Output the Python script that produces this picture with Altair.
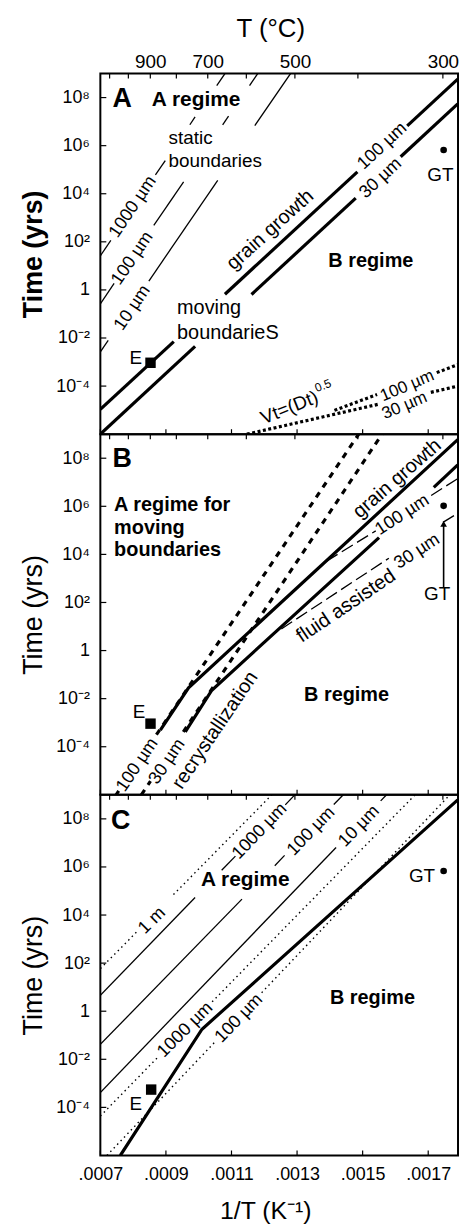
import altair as alt
import pandas as pd

FONT = "Liberation Sans"
W, H = 360, 363
X_DOMAIN = [0.0007, 0.0017909]
Y_DOMAIN = [1e-6, 1e9]

# axis ticks
T_TICKS_C = [1100, 1000, 900, 800, 700, 600, 500, 400, 300]
T_LABELS_C = [900, 700, 500, 300]
INVT_TICKS = [0.0007, 0.0009, 0.0011, 0.0013, 0.0015, 0.0017]
Y_TICKS = [1e-4, 1e-2, 1.0, 1e2, 1e4, 1e6, 1e8]

# ---------------- Panel A : segments of (1/T, log10 t) ----------------
A_STATIC = [  # static boundaries 1000, 100, 10 um (thin)
    [(0.0007, 1.42), (0.000732, 2.06)], [(0.000868, 4.78), (0.000898, 5.38)],
    [(0.000973, 6.87), (0.000989, 7.20)], [(0.001055, 8.50), (0.00108, 9.0)],
    [(0.0007, -0.58), (0.000742, 0.27)], [(0.000863, 2.68), (0.000954, 4.49)],
    [(0.001073, 6.86), (0.001091, 7.23)], [(0.001155, 8.50), (0.00118, 9.0)],
    [(0.0007, -2.58), (0.000724, -2.10)], [(0.000848, 0.37), (0.001058, 4.56)],
    [(0.001171, 6.83), (0.00128, 9.0)],
]
A_MOVING = [  # moving boundaries / grain growth 100, 30 um (thick)
    [(0.0007, -4.97), (0.000924, -2.15)], [(0.00108, -0.18), (0.001484, 4.91)],
    [(0.001636, 6.82), (0.00179, 8.77)],
    [(0.0007, -6.0), (0.000989, -2.35)], [(0.001161, -0.19), (0.001479, 3.82)],
    [(0.001616, 5.54), (0.00179, 7.74)],
]
A_DIFF = [  # Vt=(Dt)^0.5, 100 and 30 um (thick dotted)
    [(0.001414, -5.01), (0.001544, -4.35)], [(0.001726, -3.44), (0.00179, -3.11)],
    [(0.001147, -6.0), (0.00155, -4.75)], [(0.001708, -4.26), (0.00179, -4.0)],
]
A_E = [(0.000853, -3.03)]
A_GT = [(0.001747, 5.82)]
A_TEXT = [  # text, 1/T, log t, angle, size, weight, align
    ("A", 0.000767, 7.93, 0, 27, "bold", "center"),
    ("A regime", 0.000992, 7.90, 0, 21, "bold", "center"),
    ("static", 0.000908, 6.31, 0, 19, "normal", "left"),
    ("boundaries", 0.000908, 5.36, 0, 19, "normal", "left"),
    ("1000 µm", 0.000799, 3.45, 304, 18, "normal", "center"),
    ("100 µm", 0.000798, 1.31, 304, 18, "normal", "center"),
    ("10 µm", 0.000798, -0.75, 304, 18, "normal", "center"),
    ("grain growth", 0.001218, 2.50, 318, 20, "normal", "center"),
    ("100 µm", 0.00156, 5.98, 317, 18, "normal", "center"),
    ("30 µm", 0.001555, 4.64, 317, 18, "normal", "center"),
    ("B regime", 0.001525, 1.21, 0, 20, "bold", "center"),
    ("moving", 0.000934, -0.75, 0, 20, "normal", "left"),
    ("boundarieS", 0.000934, -1.79, 0, 20, "normal", "left"),
    ("E", 0.000808, -2.82, 0, 19, "normal", "center"),
    ("GT", 0.001737, 4.76, 0, 19, "normal", "center"),
    ("Vt=(Dt)", 0.001362, -4.43, 338, 19, "normal", "right"),
    ("100 µm", 0.001636, -3.99, 337, 17, "normal", "center"),
    ("30 µm", 0.001628, -4.81, 337, 17, "normal", "center"),
]
A_SUP = [("0.5", 0.001362, -4.43, 338, 12, 1, -8)]

# ---------------- Panel B ----------------
B_RECRYST = [  # recrystallization 100, 30 um (thick dashed), broken by labels
    [(0.000748, -6.0), (0.000756, -5.84)], [(0.000871, -3.50), (0.001488, 9.0)],
    [(0.000825, -6.0), (0.000853, -5.43)], [(0.000953, -3.38), (0.001559, 9.0)],
]
B_SOLID = [  # combined grain growth 100, 30 um (thick)
    [(0.000883, -3.31), (0.000969, -1.55), (0.00179, 8.77)],
    [(0.000959, -3.38), (0.00104, -1.65), (0.00155, 4.70)],
    [(0.001717, 6.79), (0.00179, 7.72)],
]
B_FLUID = [  # fluid assisted 100, 30 um (thin long dash)
    [(0.00139, 3.72), (0.00154, 4.98)], [(0.001709, 6.45), (0.00179, 7.15)],
    [(0.001252, 0.90), (0.00158, 3.84)], [(0.001745, 5.33), (0.00179, 5.71)],
]
B_ARROW = [[(0.001747, 2.61), (0.001747, 5.30)]]
B_ARROWHEAD = [(0.001747, 5.27)]
B_E = [(0.000853, -3.04)]
B_GT = [(0.001747, 6.02)]
B_TEXT = [
    ("B", 0.000767, 7.98, 0, 27, "bold", "center"),
    ("A regime for", 0.000742, 6.05, 0, 20, "bold", "left"),
    ("moving", 0.000742, 5.09, 0, 20, "bold", "left"),
    ("boundaries", 0.000742, 4.19, 0, 20, "bold", "left"),
    ("grain growth", 0.001605, 7.15, 319, 20, "normal", "center"),
    ("100 µm", 0.001621, 5.64, 327, 18, "normal", "center"),
    ("30 µm", 0.001666, 4.12, 327, 18, "normal", "center"),
    ("fluid assisted", 0.001449, 1.85, 326, 20, "normal", "center"),
    ("recrystallization", 0.00105, -3.31, 304, 20, "normal", "center"),
    ("100 µm", 0.000813, -4.76, 304, 18, "normal", "center"),
    ("30 µm", 0.000904, -4.62, 304, 18, "normal", "center"),
    ("B regime", 0.001451, -1.87, 0, 20, "bold", "center"),
    ("E", 0.000818, -2.56, 0, 19, "normal", "center"),
    ("GT", 0.001727, 2.34, 0, 19, "normal", "center"),
]

# ---------------- Panel C ----------------
C_SOLID = [  # 1000, 100, 10 um (thin solid)
    [(0.0007, 0.665), (0.000989, 4.73)], [(0.00107, 5.86), (0.001112, 6.45)],
    [(0.001264, 8.58), (0.001293, 9.0)],
    [(0.0007, -1.38), (0.001132, 4.66)], [(0.001232, 6.05), (0.001262, 6.48)],
    [(0.001412, 8.60), (0.001441, 9.0)],
    [(0.0007, -3.38), (0.001419, 6.81)], [(0.001555, 8.75), (0.001573, 9.0)],
]
C_DOTTED = [  # 1 m, 1000 um, 100 um (thin dotted)
    [(0.0007, 1.77), (0.000814, 3.34)], [(0.000923, 4.85), (0.001223, 9.0)],
    [(0.0007, -4.36), (0.000877, -1.89)], [(0.001041, 0.39), (0.00166, 9.0)],
    [(0.00072, -6.0), (0.001053, -1.23)], [(0.001192, 0.77), (0.001766, 9.0)],
]
C_THICK = [[(0.000761, -6.0), (0.00101, -0.75), (0.00179, 8.79)]]
C_E = [(0.000855, -3.26)]
C_GT = [(0.001747, 5.83)]
C_TEXT = [
    ("C", 0.000762, 7.90, 0, 27, "bold", "center"),
    ("A regime", 0.001142, 5.45, 0, 21, "bold", "center"),
    ("1 m", 0.000858, 3.76, 315, 18, "normal", "center"),
    ("1000 µm", 0.001186, 7.48, 314, 18, "normal", "center"),
    ("100 µm", 0.001343, 7.48, 314, 18, "normal", "center"),
    ("10 µm", 0.001489, 7.69, 314, 18, "normal", "center"),
    ("1000 µm", 0.000959, -0.78, 315, 18, "normal", "center"),
    ("100 µm", 0.001123, -0.30, 314, 18, "normal", "center"),
    ("GT", 0.001681, 5.62, 0, 19, "normal", "center"),
    ("E", 0.000808, -3.88, 0, 19, "normal", "center"),
    ("B regime", 0.00153, 0.56, 0, 20, "bold", "center"),
]

STYLE = {
    "thin": {"strokeWidth": 1.3},
    "thick": {"strokeWidth": 3.2},
    "dash": {"strokeWidth": 3.2, "strokeDash": [6, 6]},
    "longdash": {"strokeWidth": 1.3, "strokeDash": [13, 5]},
    "dot": {"strokeWidth": 1.4, "strokeDash": [1.5, 3.5]},
    "bigdot": {"strokeWidth": 3.2, "strokeDash": [3, 2.5]},
    "arrow": {"strokeWidth": 1.6},
}

YLABEL_EXPR = ("datum.value > 5e7 ? '10⁸' : datum.value > 5e5 ? '10⁶' : datum.value > 5e3 ? '10⁴' : "
               "datum.value > 50 ? '10²' : datum.value > 0.5 ? '1' : datum.value > 5e-3 ? '10⁻²' : '10⁻⁴'")


def yaxis(weight):
    return alt.Axis(values=Y_TICKS, labelExpr=YLABEL_EXPR, ticks=False, domain=False, grid=False,
                    labelFont=FONT, labelFontSize=18, labelPadding=11, labelFlush=False,
                    labelOverlap=False, labelColor="black",
                    title="Time (yrs)", titleFont=FONT, titleFontSize=27, titleFontWeight=weight,
                    titleColor="black", titleX=-67, titleY=H / 2, titleAngle=270,
                    titleAlign="center", titleBaseline="middle")


TOP_AXIS = alt.Axis(orient="top", values=[1 / (T + 273.15) for T in T_LABELS_C],
                    labelExpr="format(round(1/datum.value - 273.15), 'd')",
                    ticks=False, domain=False, grid=False, labelFont=FONT, labelFontSize=19,
                    labelPadding=2, labelFlush=False, labelColor="black",
                    title="T (°C)", titleFont=FONT, titleFontSize=26, titleFontWeight="normal",
                    titleColor="black", titleX=171, titleY=-45, titleAlign="center",
                    titleBaseline="middle")

BOTTOM_AXIS = alt.Axis(orient="bottom", values=INVT_TICKS,
                       labelExpr="replace(format(datum.value, '.4f'), '0.', '.')",
                       ticks=False, domain=False, grid=False, labelFont=FONT, labelFontSize=18,
                       labelPadding=10, labelFlush=False, labelColor="black",
                       title="1/T (K⁻¹)", titleFont=FONT, titleFontSize=25,
                       titleFontWeight="normal", titleColor="black", titleX=166, titleY=55,
                       titleAlign="center", titleBaseline="middle")


def seg_df(segs, tag):
    rows = []
    for i, seg in enumerate(segs):
        for j, (x, lt) in enumerate(seg):
            rows.append({"x": x, "t": 10.0 ** lt, "seg": f"{tag}{i}", "ord": j})
    return pd.DataFrame(rows)


def pts_df(pts):
    return pd.DataFrame({"x": [p[0] for p in pts], "t": [10.0 ** p[1] for p in pts]})


def make_panel(lines, squares, circles, triangles, texts, sups, xaxis, yweight):
    xenc = alt.X("x:Q", scale=alt.Scale(domain=X_DOMAIN, nice=False, zero=False), axis=xaxis)
    yenc = alt.Y("t:Q", scale=alt.Scale(type="log", domain=Y_DOMAIN, nice=False),
                 axis=yaxis(yweight))
    layers = []
    # inner ticks: T ticks along top edge, 1/T ticks along bottom edge, log ticks at left
    tdf = pd.DataFrame({"x": [1 / (T + 273.15) for T in T_TICKS_C]})
    layers.append(alt.Chart(tdf).mark_rule(color="black", strokeWidth=1.2).encode(
        x=xenc, y=alt.value(0), y2=alt.value(5)))
    bdf = pd.DataFrame({"x": INVT_TICKS})
    layers.append(alt.Chart(bdf).mark_rule(color="black", strokeWidth=1.2).encode(
        x=xenc, y=alt.value(H - 5), y2=alt.value(H)))
    ydf = pd.DataFrame({"t": Y_TICKS})
    layers.append(alt.Chart(ydf).mark_rule(color="black", strokeWidth=1.2).encode(
        y=yenc, x=alt.value(0), x2=alt.value(6)))
    for k, (style, segs) in enumerate(lines):
        df = seg_df(segs, f"{style}{k}_")
        layers.append(alt.Chart(df).mark_line(color="black", clip=True, **STYLE[style]).encode(
            x=xenc, y=yenc, detail="seg:N", order="ord:Q"))
    if squares:
        layers.append(alt.Chart(pts_df(squares)).mark_point(
            shape="square", filled=True, color="black", opacity=1, size=110).encode(x=xenc, y=yenc))
    if circles:
        layers.append(alt.Chart(pts_df(circles)).mark_point(
            shape="circle", filled=True, color="black", opacity=1, size=45).encode(x=xenc, y=yenc))
    if triangles:
        layers.append(alt.Chart(pts_df(triangles)).mark_point(
            shape="triangle-up", filled=True, color="black", opacity=1, size=45).encode(x=xenc, y=yenc))
    tdf_all = pd.DataFrame(texts, columns=["text", "x", "lt", "angle", "size", "weight", "align"])
    tdf_all["t"] = 10.0 ** tdf_all["lt"]
    for (weight, align), g in tdf_all.groupby(["weight", "align"]):
        layers.append(alt.Chart(g).mark_text(
            font=FONT, fontWeight=weight, align=align, baseline="middle", color="black").encode(
            x=xenc, y=yenc, text="text:N",
            angle=alt.Angle("angle:Q", scale=None), size=alt.Size("size:Q", scale=None)))
    for (txt, x, lt, ang, size, dx, dy) in sups:
        sdf = pd.DataFrame({"x": [x], "t": [10.0 ** lt], "text": [txt]})
        layers.append(alt.Chart(sdf).mark_text(
            font=FONT, align="left", baseline="middle", color="black", angle=ang,
            fontSize=size, dx=dx, dy=dy).encode(x=xenc, y=yenc, text="text:N"))
    return alt.layer(*layers).properties(width=W, height=H)


panel_a = make_panel(
    [("thin", A_STATIC), ("thick", A_MOVING), ("bigdot", A_DIFF)],
    A_E, A_GT, None, A_TEXT, A_SUP, TOP_AXIS, "bold")
panel_b = make_panel(
    [("dash", B_RECRYST), ("thick", B_SOLID), ("longdash", B_FLUID), ("arrow", B_ARROW)],
    B_E, B_GT, B_ARROWHEAD, B_TEXT, [], None, "normal")
panel_c = make_panel(
    [("thin", C_SOLID), ("dot", C_DOTTED), ("thick", C_THICK)],
    C_E, C_GT, None, C_TEXT, [], BOTTOM_AXIS, "normal")

chart = alt.vconcat(panel_a, panel_b, panel_c, spacing=0, bounds="flush").properties(
    padding={"left": 19, "top": 11, "right": 0, "bottom": 0}
).configure_view(stroke="black", strokeWidth=2).configure_axis(grid=False)

chart.save("out.html", embed_options={"renderer": "svg", "actions": False})
